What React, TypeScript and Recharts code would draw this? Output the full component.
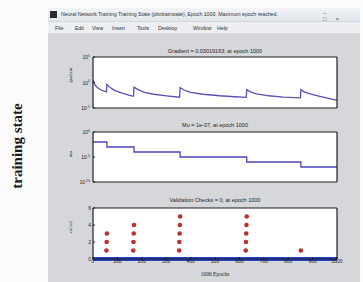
import React from "react";
import {
  ComposedChart,
  Line,
  LineChart,
  Scatter,
  XAxis,
  YAxis,
} from "recharts";

// gradient per epoch; it jumps back up each time mu is lowered
const gradEpochs = [
  0, 5, 10, 20, 35, 55,
  57, 70, 90, 120, 150, 166,
  168, 185, 210, 250, 300, 355,
  357, 375, 400, 450, 520, 580, 628,
  630, 645, 670, 720, 780, 850,
  852, 865, 890, 930, 970, 1000,
];
const gradValues = [
  3, 0.8, 0.25, 0.08, 0.03, 0.015,
  0.4, 0.1, 0.025, 0.008, 0.003, 0.002,
  0.12, 0.04, 0.012, 0.005, 0.0025, 0.0013,
  0.1, 0.03, 0.012, 0.005, 0.0025, 0.0016, 0.0012,
  0.04, 0.015, 0.006, 0.0025, 0.0013, 0.001,
  0.04, 0.015, 0.006, 0.002, 0.0007, 0.0003,
];

const muEpochs = [0, 57, 168, 357, 630, 852, 1000];
const muValues = [1e-2, 1e-3, 1e-4, 1e-5, 1e-6, 1e-7, 1e-7];

const valEpochs = [55, 56, 57, 165, 166, 167, 168, 353, 354, 355, 356, 357, 626, 627, 628, 629, 630, 852];
const valChecks = [1, 2, 3, 1, 2, 3, 4, 1, 2, 3, 4, 5, 1, 2, 3, 4, 5, 1];
const zeroEpochs = [0, 1000];
const zeroChecks = [0, 0];

const epochTicks = [0, 100, 200, 300, 400, 500, 600, 700, 800, 900, 1000];
const menuItems = ["File", "Edit", "View", "Insert", "Tools", "Desktop", "Window", "Help"];

const gradData = gradEpochs.map((e, i) => ({ epoch: e, v: gradValues[i] }));
const muData = muEpochs.map((e, i) => ({ epoch: e, v: muValues[i] }));
const valData = valEpochs.map((e, i) => ({ epoch: e, v: valChecks[i] }));
const zeroData = zeroEpochs.map((e, i) => ({ epoch: e, v: zeroChecks[i] }));

const FONT = "Arial, 'Liberation Sans', sans-serif";
const AX = "#1e1e1e";

const PowTick = (props: any) => {
  const { x, y, payload } = props;
  const e = Math.round(Math.log10(payload.value));
  return (
    <text x={x - 1} y={y + 2} textAnchor="end" fontSize={5} fill={AX} fontFamily={FONT}>
      10
      <tspan dy={-2.5} fontSize={3.5}>{e}</tspan>
    </text>
  );
};

const NumTick = (props: any) => {
  const { x, y, payload, anchor } = props;
  return (
    <text x={x} y={y + 2} textAnchor={anchor || "middle"} fontSize={5} fill={AX} fontFamily={FONT}>
      {payload.value}
    </text>
  );
};

const title: React.CSSProperties = {
  position: "absolute",
  left: 93,
  width: 244,
  textAlign: "center",
  fontSize: 5.5,
  color: "#222",
  fontFamily: FONT,
  whiteSpace: "nowrap",
};

function plotBox(top: number, height: number): React.CSSProperties {
  return { position: "absolute", left: 93, top, width: 244, height, background: "#fff" };
}

function frameAxes(logDomain: number[] | null, ticks: number[], label: string, showX: boolean) {
  const yCommon: any = logDomain
    ? { scale: "log", domain: logDomain, allowDataOverflow: true }
    : { type: "number", domain: [0, 6] };
  const line = { stroke: AX, strokeWidth: 1.2 };
  return [
    <XAxis
      key="xb"
      xAxisId="b"
      dataKey="epoch"
      type="number"
      domain={[0, 1000]}
      ticks={epochTicks}
      interval={0}
      height={showX ? 18 : 1}
      stroke={AX}
      axisLine={line}
      tickSize={-2}
      tickMargin={4}
      tick={showX ? <NumTick /> : false}
      label={showX ? { value: "1000 Epochs", position: "insideBottom", offset: 1, fontSize: 5.5, fill: "#222" } : undefined}
    />,
    <XAxis key="xt" xAxisId="t" orientation="top" type="number" domain={[0, 1000]} ticks={epochTicks} interval={0} height={1} stroke={AX} axisLine={line} tickSize={-2} tick={false} />,
    <YAxis
      key="yl"
      yAxisId="l"
      {...yCommon}
      ticks={ticks}
      interval={0}
      width={33}
      stroke={AX}
      axisLine={line}
      tickSize={-2}
      tickMargin={4}
      tick={logDomain ? <PowTick /> : <NumTick anchor="end" />}
      label={{ value: label, angle: -90, position: "insideLeft", offset: 10, fontSize: 4.5, fill: "#333" }}
    />,
    <YAxis key="yr" yAxisId="r" orientation="right" {...yCommon} ticks={ticks} interval={0} width={1} stroke={AX} axisLine={line} tickSize={-2} tick={false} />,
  ];
}

export default function App() {
  return (
    <div style={{ position: "absolute", left: 0, top: 0, width: 363, height: 282, background: "#fbfbfb", overflow: "hidden" }}>
      {/* side caption */}
      <div
        style={{
          position: "absolute",
          left: 17,
          top: 146,
          transform: "translate(-50%, -50%) rotate(-90deg)",
          fontFamily: "'Liberation Serif', 'DejaVu Serif', serif",
          fontWeight: "bold",
          fontSize: 15,
          color: "#1a1a1a",
          whiteSpace: "nowrap",
        }}
      >
        training state
      </div>

      {/* window */}
      <div style={{ position: "absolute", left: 48, top: 8, width: 312, height: 274, background: "#d5d7da" }}>
        <div style={{ position: "absolute", left: 0, top: 0, width: 312, height: 13, background: "linear-gradient(#f2f5f7, #dfe6ec)" }} />
        <div style={{ position: "absolute", left: 2, top: 3, width: 7, height: 7, background: "#2b2b2b" }} />
        <div style={{ position: "absolute", left: 13, top: 3, fontSize: 5.2, fontFamily: FONT, color: "#333", whiteSpace: "nowrap" }}>
          Neural Network Training Training State (plottrainstate), Epoch 1000, Maximum epoch reached.
        </div>
        <div style={{ position: "absolute", left: 275, top: 2, fontSize: 6, fontFamily: FONT, color: "#666", letterSpacing: 9 }}>–□×</div>
        <div style={{ position: "absolute", left: 0, top: 14, width: 312, height: 11, background: "#eceef1" }} />
        {menuItems.map((m, i) => (
          <div
            key={m}
            style={{
              position: "absolute",
              left: [7, 27, 44, 64, 89, 110, 145, 169][i],
              top: 17,
              fontSize: 5.2,
              fontFamily: FONT,
              color: "#333",
            }}
          >
            {m}
          </div>
        ))}
      </div>

      <div style={{ ...title, top: 48 }}>Gradient = 0.03019163, at epoch 1000</div>
      <div style={{ ...title, top: 122 }}>Mu = 1e-07, at epoch 1000</div>
      <div style={{ ...title, top: 197 }}>Validation Checks = 0, at epoch 1000</div>

      <div style={plotBox(57, 51)} />
      <div style={plotBox(132, 50)} />
      <div style={plotBox(208, 51)} />

      <div style={{ position: "absolute", left: 60, top: 54 }}>
        <LineChart width={279} height={57} data={gradData} margin={{ top: 2, right: 1, bottom: 2, left: 0 }}>
          {frameAxes([1e-5, 1e5], [1e-5, 1, 1e5], "gradient", false)}
          <Line xAxisId="b" yAxisId="l" dataKey="v" stroke="#5b4fb4" strokeWidth={1.3} dot={false} isAnimationActive={false} />
        </LineChart>
      </div>

      <div style={{ position: "absolute", left: 60, top: 129 }}>
        <LineChart width={279} height={56} data={muData} margin={{ top: 2, right: 1, bottom: 2, left: 0 }}>
          {frameAxes([1e-10, 1], [1e-10, 1e-5, 1], "mu", false)}
          <Line xAxisId="b" yAxisId="l" type="stepAfter" dataKey="v" stroke="#4a45b8" strokeWidth={1.3} dot={false} isAnimationActive={false} />
        </LineChart>
      </div>

      <div style={{ position: "absolute", left: 60, top: 205 }}>
        <ComposedChart width={289} height={72} margin={{ top: 2, right: 11, bottom: 0, left: 0 }}>
          {frameAxes(null, [0, 2, 4, 6], "val fail", true)}
          <Line xAxisId="b" yAxisId="l" data={zeroData} dataKey="v" stroke="#2443c6" strokeWidth={4} dot={false} isAnimationActive={false} />
          <Scatter
            xAxisId="b"
            yAxisId="l"
            data={valData}
            dataKey="v"
            fill="#b8332e"
            shape={(p: any) => <circle cx={p.cx} cy={p.cy} r={2.3} fill="#b8332e" />}
            isAnimationActive={false}
          />
        </ComposedChart>
      </div>
    </div>
  );
}
